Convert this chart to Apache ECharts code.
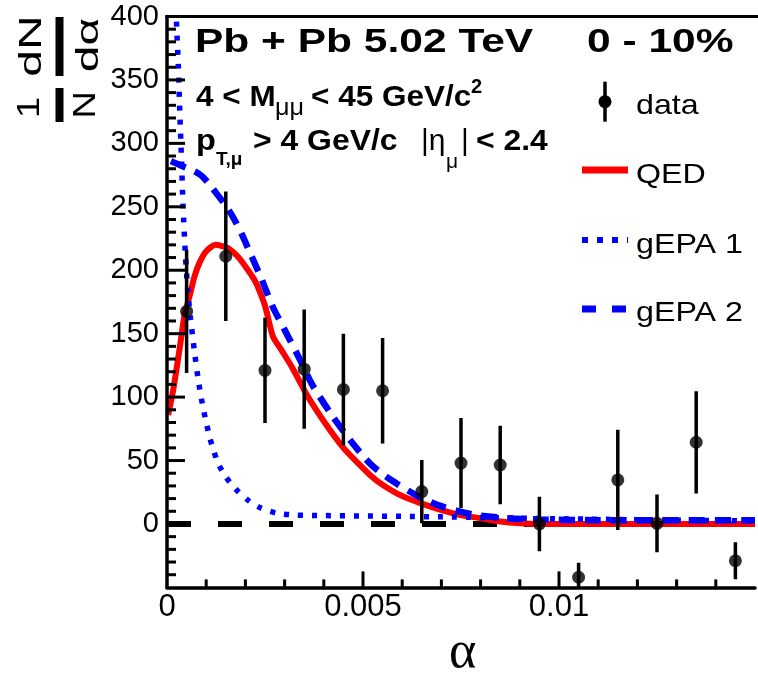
<!DOCTYPE html>
<html><head><meta charset="utf-8">
<script src="https://cdn.jsdelivr.net/npm/echarts@6/dist/echarts.min.js"></script>
<style>html,body{margin:0;padding:0;background:#fff}#c{width:758px;height:676px}</style>
</head><body><div id="c"></div>
<script>
// ---- data ----
const alphaBins  = [0.0005,0.0015,0.0025,0.0035,0.0045,0.0055,0.0065,0.0075,0.0085,0.0095,0.0105,0.0115,0.0125,0.0135,0.0145];
const dataValues = [167.5,211,121,122,106,105,25.5,48,46.5,0,-42,34.7,0.5,64.4,-29];
const dataErrors = [48.5,51,41.5,47,44,41.5,25,35.5,31,21.5,11.5,39.5,22.7,40.3,14.5];

const qedAlpha  = [0.00003,0.00016,0.00033,0.00045,0.00058,0.0007,0.00083,0.001,0.00124,0.0014,0.00158,0.0018,0.002,0.0022,0.0023,0.0025,0.0027,0.0029,0.0032,0.0036,0.004,0.0045,0.005,0.0052,0.0054,0.0057,0.006,0.0065,0.007,0.0075,0.008,0.0085,0.009,0.0095,0.011,0.013,0.015];
const qedValues = [86,106,140,165,180,195,206,215,220,219,217,211,203,194,188,172,148,138,123,100,81,60,44,38,33,27,22,16,11,7,4.5,2,0.6,0,0,0,0];

const gepa1Alpha  = [0.0002,0.00024,0.00029,0.000325,0.00037,0.00041,0.00047,0.00053,0.0006,0.0007,0.0008,0.0009,0.001,0.0011,0.0012,0.0013,0.0015,0.0018,0.0021,0.0024,0.0028,0.0033,0.004,0.005,0.006,0.007,0.008,0.009,0.01,0.011,0.012,0.013,0.014,0.015];
const gepa1Values = [440,397,360,326,287,250,212,184,162,136,113,95,80,67,57,48,37,26,18,12.5,8.5,7,6.6,6.3,6,5.6,5.1,4.6,4.1,3.7,3.3,3,2.7,2.5];

const gepa2Alpha  = [0.0001,0.0004,0.0007,0.0009,0.0011,0.0013,0.0015,0.0017,0.0019,0.0021,0.0024,0.0027,0.003,0.0034,0.0037,0.0042,0.0047,0.0052,0.0057,0.0064,0.007,0.0078,0.0087,0.0095,0.011,0.013,0.015];
const gepa2Values = [286,282,278,274,267,259,251,241,229,215,194,171,153,129,110,86,65,47,35,22,14,7.5,4.5,3.5,3,3,3];

const zeroAlpha  = [0, 0.015];
const zeroValues = [0, 0];

const xTickLabels = [0, 0.005, 0.01];
const yTickLabels = [0, 50, 100, 150, 200, 250, 300, 350, 400];

const X_MIN = 0, X_MAX = 0.015, Y_MIN = -50, Y_MAX = 400;

// ---- helpers ----
const SANS = '"Liberation Sans", Arial, Helvetica, sans-serif';
function T(x, y, text, size, o) {
  o = o || {};
  return {
    type: 'text', x: x, y: y, scaleX: o.sx || 1, rotation: o.rot || 0, z: 100,
    style: {
      text: text, x: 0, y: 0,
      font: (o.bold ? 'bold ' : '') + size + 'px ' + (o.family || SANS),
      fill: '#000',
      align: o.align || 'left', verticalAlign: 'middle',
      textAlign: o.align || 'left', textVerticalAlign: 'middle'
    }
  };
}
function L(x1, y1, x2, y2, color, w, dash) {
  return { type: 'line', z: 100, shape: { x1: x1, y1: y1, x2: x2, y2: y2 },
    style: { stroke: color, lineWidth: w, lineDash: dash || null, lineCap: 'butt' } };
}
const zip = (a, b) => a.map((v, i) => [v, b[i]]);

const chart = echarts.init(document.getElementById('c'), null, { renderer: 'canvas' });
chart.setOption({
  animation: false,
  backgroundColor: '#fff',
  grid: { left: 167, top: 16.5, right: -8.5, bottom: 88.6, show: false },
  xAxis: {
    type: 'value', min: X_MIN, max: X_MAX, interval: 0.005, z: 10,
    axisLine: { show: true, onZero: false, lineStyle: { color: '#000', width: 3.5 } },
    axisTick: { show: false }, minorTick: { show: false },
    splitLine: { show: false },
    axisLabel: {
      color: '#000', fontSize: 31, fontFamily: SANS, margin: 5,
      formatter: v => { const r = parseFloat(v.toFixed(4)); return xTickLabels.indexOf(r) >= 0 ? String(r) : ''; }
    }
  },
  yAxis: {
    type: 'value', min: Y_MIN, max: Y_MAX, interval: 50, z: 10,
    axisLine: { show: true, onZero: false, lineStyle: { color: '#000', width: 3.5 } },
    axisTick: { show: false }, minorTick: { show: false },
    splitLine: { show: false },
    axisLabel: {
      color: '#000', fontSize: 29, fontFamily: SANS, margin: 8,
      formatter: v => yTickLabels.indexOf(v) >= 0 ? String(v) : ''
    }
  },
  series: [
    { name: 'zero', type: 'line', data: zip(zeroAlpha, zeroValues), symbol: 'none', z: 1,
      lineStyle: { color: '#000', width: 6, type: [24, 27], cap: 'butt' } },
    { name: 'QED', type: 'line', data: zip(qedAlpha, qedValues), symbol: 'none', smooth: 0.25, z: 2,
      lineStyle: { color: '#ff0000', width: 6 } },
    { name: 'gEPA 1', type: 'line', data: zip(gepa1Alpha, gepa1Values), symbol: 'none', smooth: 0.25, z: 3, clip: true,
      lineStyle: { color: '#0000ff', width: 5.5, type: [5, 9], cap: 'butt' } },
    { name: 'gEPA 2', type: 'line', data: zip(gepa2Alpha, gepa2Values), symbol: 'none', smooth: 0.25, z: 4,
      lineStyle: { color: '#0000ff', width: 6.5, type: [16, 10], cap: 'butt' } },
    { name: 'errors', type: 'custom', clip: true, z: 5,
      data: alphaBins.map((a, i) => [a, dataValues[i] - dataErrors[i], dataValues[i] + dataErrors[i]]),
      encode: { x: 0, y: [1, 2] },
      renderItem: (params, api) => {
        const p1 = api.coord([api.value(0), api.value(1)]);
        const p2 = api.coord([api.value(0), api.value(2)]);
        return { type: 'line', shape: { x1: p1[0], y1: p1[1], x2: p2[0], y2: p2[1] },
          style: { stroke: '#000', lineWidth: 3.5 } };
      } },
    { name: 'data', type: 'scatter', data: zip(alphaBins, dataValues), symbol: 'circle', symbolSize: 13, z: 6,
      itemStyle: { color: '#000' } }
  ]
});

// ---- axis tick marks, placed through the chart's own scales ----
const ticks = [];
for (let k = 1; k <= 14; k++) {
  const p = chart.convertToPixel({ gridIndex: 0 }, [k / 1000, Y_MIN]);
  const len = (k % 5 === 0) ? 16 : 8;
  ticks.push(L(p[0], p[1], p[0], p[1] - len, '#000', 3));
}
for (let v = -40; v < Y_MAX; v += 10) {
  const p = chart.convertToPixel({ gridIndex: 0 }, [X_MIN, v]);
  const len = (v % 50 === 0) ? 18 : 9;
  ticks.push(L(p[0], p[1], p[0] + len, p[1], '#000', 3));
}
const topLeft = chart.convertToPixel({ gridIndex: 0 }, [X_MIN, Y_MAX]);

chart.setOption({
  graphic: ticks.concat([
    // top frame
    L(topLeft[0] - 1.7, topLeft[1], 758, topLeft[1], '#000', 3),
    // header texts
    T(195, 43, 'Pb + Pb 5.02 TeV', 34, { bold: true, sx: 1.25 }),
    T(587, 43, '0 - 10%', 34, { bold: true, sx: 1.25 }),
    T(196, 98, '4 < M', 30, { bold: true, sx: 1.05 }),
    T(275, 108, 'μμ', 24, { sx: 1.05 }),
    T(311, 98, '< 45 GeV/c', 30, { bold: true, sx: 1.05 }),
    T(471, 87.5, '2', 20, { bold: true }),
    T(196, 141.5, 'p', 29, { bold: true, sx: 1.12 }),
    T(216, 160, 'T,μ', 19, { bold: true }),
    T(253, 141.5, '> 4 GeV/c', 29, { bold: true, sx: 1.1 }),
    T(421, 141.5, '|η', 30, {}),
    T(446, 162, 'μ', 21, {}),
    T(461, 141.5, '|', 30, {}),
    T(476, 141.5, '< 2.4', 29, { bold: true, sx: 1.1 }),
    // legend
    L(605, 81.7, 605, 121.7, '#000', 3.5),
    { type: 'circle', z: 100, shape: { cx: 605, cy: 101.7, r: 6.5 }, style: { fill: '#000' } },
    T(636, 106, 'data', 28, { sx: 1.15 }),
    L(582, 170, 628, 170, '#ff0000', 7),
    T(636, 175, 'QED', 28, { sx: 1.15 }),
    L(582, 240, 628, 240, '#0000ff', 6, [6, 9]),
    T(636, 245, 'gEPA 1', 28, { sx: 1.15 }),
    L(582, 309, 628, 309, '#0000ff', 7, [14, 16]),
    T(636, 313.5, 'gEPA 2', 28, { sx: 1.15 }),
    // axis titles
    T(462.5, 653, 'α', 52, { family: '"Liberation Serif", "Times New Roman", serif', align: 'center' }),
    T(32.5, 46, 'dN', 32, { rot: Math.PI / 2, align: 'center', sx: 1.5 }),
    { type: 'rect', z: 100, shape: { x: 55.5, y: 17, width: 8, height: 59 }, style: { fill: '#000' } },
    T(89, 45, 'dα', 32, { rot: Math.PI / 2, align: 'center', sx: 1.5 }),
    T(30, 107.5, '1', 32, { rot: Math.PI / 2, align: 'center', sx: 1.2 }),
    { type: 'rect', z: 100, shape: { x: 55.5, y: 88, width: 8, height: 34 }, style: { fill: '#000' } },
    T(86, 105, 'N', 32, { rot: Math.PI / 2, align: 'center', sx: 1.2 })
  ])
});
</script>
</body></html>
